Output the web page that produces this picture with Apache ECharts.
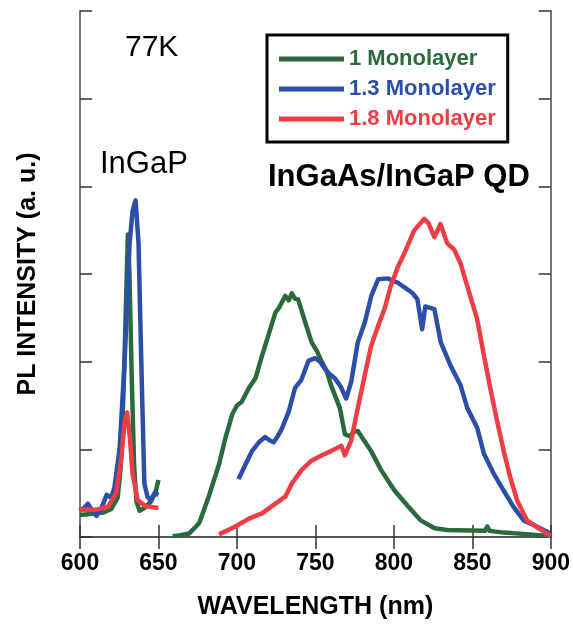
<!DOCTYPE html>
<html>
<head>
<meta charset="utf-8">
<script src="https://cdn.jsdelivr.net/npm/echarts@6/dist/echarts.min.js"></script>
<style>
html,body{margin:0;padding:0;background:#fff;}
#chart{width:573px;height:625px;}
</style>
</head>
<body>
<div id="chart"></div>
<script>
// ---- Data (wavelength in nm, PL intensity in arbitrary units) ----
const seriesNames = ['1 Monolayer', '1.3 Monolayer', '1.8 Monolayer'];
const xTicks = [600, 650, 700, 750, 800, 850, 900];

// 1 Monolayer: InGaP peak segment, then QD band
const ml1InGaPWl  = [600, 605, 610, 615, 620, 624, 626, 628, 629.5, 630.5, 631.5, 633, 634.5, 636, 638, 641, 645, 648, 650];
const ml1InGaPVal = [0.25, 0.26, 0.27, 0.28, 0.32, 0.45, 0.8, 1.8, 2.8, 3.45, 3.0, 1.8, 0.8, 0.4, 0.3, 0.33, 0.4, 0.5, 0.65];
const ml1QdWl  = [659, 664, 669.6, 676, 682, 688.6, 692.8, 697, 700, 703, 707.6, 711.8, 716, 720, 724.5, 727, 730.8, 733, 735, 737, 739, 743.5, 747.6, 751, 754, 757, 760, 765.6, 768.8, 772, 774.5, 777, 781, 785.5, 792, 800.4, 809, 817, 826, 834, 849, 858, 859.5, 861, 870, 886.7, 900];
const ml1QdVal = [0.01, 0.02, 0.04, 0.16, 0.46, 0.83, 1.14, 1.40, 1.50, 1.54, 1.70, 1.81, 2.07, 2.30, 2.56, 2.62, 2.75, 2.70, 2.78, 2.72, 2.71, 2.45, 2.22, 2.12, 2.00, 1.90, 1.73, 1.47, 1.17, 1.15, 1.20, 1.21, 1.10, 0.98, 0.76, 0.53, 0.35, 0.19, 0.10, 0.08, 0.075, 0.07, 0.12, 0.07, 0.05, 0.03, 0.01];

// 1.3 Monolayer
const ml13InGaPWl  = [600, 603, 605, 608, 610.5, 613, 617, 620, 622, 625.3, 628.5, 631.6, 633.5, 635.4, 637.3, 639, 641, 643, 645, 647.5, 650];
const ml13InGaPVal = [0.3, 0.34, 0.38, 0.3, 0.24, 0.3, 0.48, 0.45, 0.57, 1.02, 2.03, 3.35, 3.72, 3.84, 3.35, 2.04, 0.61, 0.46, 0.42, 0.5, 0.48];
const ml13QdWl  = [701, 705.5, 709.6, 714, 718, 721, 723.4, 726, 728.5, 733, 737, 741, 745.6, 749.8, 753, 756, 759, 762.4, 766, 769.6, 772.8, 777, 781.5, 785.6, 790, 796, 802.5, 809, 812, 815, 818, 820, 825.8, 829.9, 836, 842.5, 846.8, 853, 857.4, 863.7, 870, 876, 882.7, 891, 900];
const ml13QdVal = [0.66, 0.83, 0.98, 1.08, 1.14, 1.10, 1.08, 1.15, 1.23, 1.43, 1.70, 1.79, 2.01, 2.04, 2.00, 1.92, 1.86, 1.81, 1.72, 1.58, 1.77, 2.22, 2.45, 2.75, 2.94, 2.95, 2.90, 2.82, 2.78, 2.71, 2.37, 2.63, 2.60, 2.22, 1.96, 1.73, 1.47, 1.25, 0.95, 0.72, 0.53, 0.35, 0.19, 0.12, 0.04];

// 1.8 Monolayer
const ml18InGaPWl  = [600, 610, 618, 623, 626.4, 628.5, 630, 631.6, 633.5, 636.7, 642, 650];
const ml18InGaPVal = [0.31, 0.31, 0.35, 0.5, 0.91, 1.32, 1.42, 1.17, 0.72, 0.42, 0.35, 0.33];
const ml18QdWl  = [688.6, 699, 707.6, 716, 724.5, 730.8, 735, 741, 747.5, 753.8, 760, 766.5, 768.8, 772.8, 777, 781.5, 785.5, 790, 794, 798, 802.5, 806.8, 813, 819.4, 822, 825.8, 829.7, 834, 838.4, 842.5, 846.8, 853, 857.4, 861.4, 865.8, 870, 874, 878.5, 884.8, 893, 900];
const ml18QdVal = [0.03, 0.12, 0.21, 0.27, 0.38, 0.46, 0.61, 0.76, 0.87, 0.93, 0.98, 1.04, 0.93, 1.10, 1.47, 1.85, 2.18, 2.41, 2.60, 2.86, 3.08, 3.24, 3.50, 3.63, 3.58, 3.42, 3.57, 3.35, 3.28, 3.12, 2.86, 2.49, 2.07, 1.70, 1.32, 0.98, 0.69, 0.42, 0.19, 0.09, 0.01];

const colors = ['#2b6a3d', '#2b4ea8', '#ef3d46'];

function pairs(wlA, vA, wlB, vB) {
  const out = wlA.map((w, i) => [w, vA[i]]);
  out.push([(wlA[wlA.length - 1] + wlB[0]) / 2, null]);
  wlB.forEach((w, i) => out.push([w, vB[i]]));
  return out;
}

const seriesData = [
  pairs(ml1InGaPWl, ml1InGaPVal, ml1QdWl, ml1QdVal),
  pairs(ml13InGaPWl, ml13InGaPVal, ml13QdWl, ml13QdVal),
  pairs(ml18InGaPWl, ml18InGaPVal, ml18QdWl, ml18QdVal)
];

const chart = echarts.init(document.getElementById('chart'), null, {renderer: 'canvas'});
const font = 'Liberation Sans, Arial, Helvetica, sans-serif';
const tickCommon = {show: true, inside: true, length: 12, lineStyle: {color: '#333', width: 1.5}};

const order = [1, 0, 2];
const option = {
  animation: false,
  backgroundColor: '#fff',
  grid: {left: 80, right: 19, top: 11, bottom: 81, containLabel: false},
  legend: {
    left: 267, top: 35,
    orient: 'vertical',
    borderColor: '#000', borderWidth: 3,
    padding: [13, 12, 12, 12],
    itemGap: 8,
    itemWidth: 65, itemHeight: 5,
    icon: 'rect',
    data: seriesNames.map((n, i) => ({
      name: n,
      textStyle: {color: colors[i], fontWeight: 'bold', fontSize: 22, fontFamily: font, lineHeight: 22}
    }))
  },
  xAxis: [{
    type: 'value', min: xTicks[0], max: xTicks[xTicks.length - 1], interval: 50,
    position: 'bottom',
    axisLine: {show: true, lineStyle: {color: '#222', width: 1.5}},
    axisTick: tickCommon,
    splitLine: {show: false},
    axisLabel: {color: '#000', fontWeight: 'bold', fontSize: 23, fontFamily: font, margin: 15},
    name: 'WAVELENGTH (nm)', nameLocation: 'middle', nameGap: 58,
    nameTextStyle: {color: '#000', fontWeight: 'bold', fontSize: 25, fontFamily: font}
  }, {
    type: 'value', min: xTicks[0], max: xTicks[xTicks.length - 1], interval: 50,
    position: 'top',
    axisLine: {show: true, lineStyle: {color: '#555', width: 1.5}},
    axisTick: tickCommon,
    splitLine: {show: false},
    axisLabel: {show: false}
  }],
  yAxis: [{
    type: 'value', min: 0, max: 6, interval: 1,
    position: 'left',
    axisLine: {show: true, lineStyle: {color: '#777', width: 2}},
    axisTick: tickCommon,
    splitLine: {show: false},
    axisLabel: {show: false},
    name: 'PL INTENSITY (a. u.)', nameLocation: 'middle', nameGap: 39,
    nameTextStyle: {color: '#000', fontWeight: 'bold', fontSize: 25, fontFamily: font}
  }, {
    type: 'value', min: 0, max: 6, interval: 1,
    position: 'right',
    axisLine: {show: true, lineStyle: {color: '#777', width: 2}},
    axisTick: tickCommon,
    splitLine: {show: false},
    axisLabel: {show: false}
  }],
  series: order.map(i => ({
    name: seriesNames[i],
    type: 'line',
    data: seriesData[i],
    showSymbol: false,
    symbol: 'none',
    connectNulls: false,
    color: colors[i],
    lineStyle: {color: colors[i], width: 4.5, join: 'round'},
    itemStyle: {color: colors[i]},
    z: 2 + i
  })),
  graphic: [
    {type: 'text', left: 125, top: 33, style: {text: '77K', fontSize: 30, fontFamily: font, fill: '#000'}},
    {type: 'text', left: 100, top: 149, style: {text: 'InGaP', fontSize: 31, fontFamily: font, fill: '#000'}},
    {type: 'text', left: 268, top: 162, style: {text: 'InGaAs/InGaP QD', fontSize: 31, fontWeight: 'bold', fontFamily: font, fill: '#000'}}
  ]
};
chart.setOption(option);
</script>
</body>
</html>
